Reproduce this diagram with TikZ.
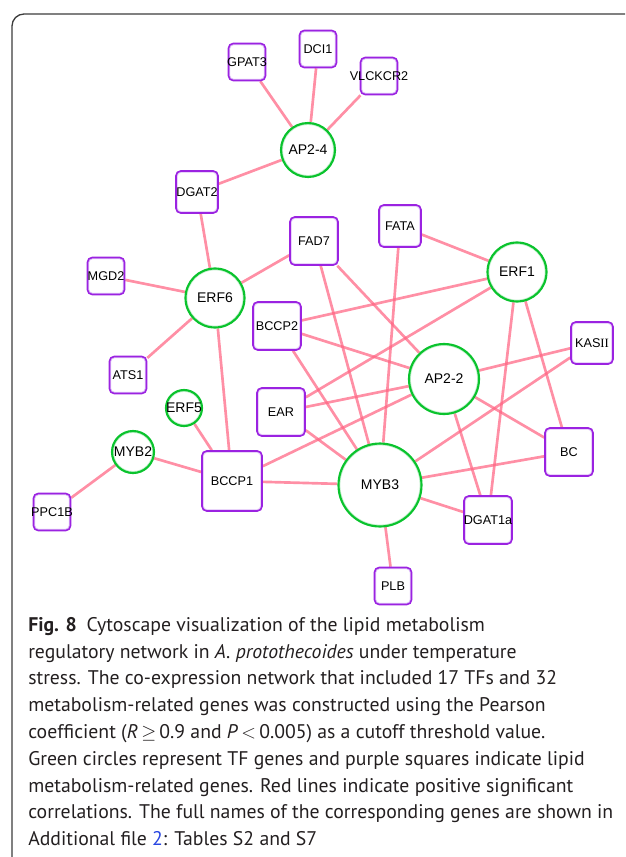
\documentclass[tikz,border=0pt]{standalone}
\usepackage{fontspec}
\setmainfont{PT Sans}
\newfontfamily\labelfont{Liberation Sans}
\newfontfamily\romanfont{Liberation Serif}
\usetikzlibrary{backgrounds}
\definecolor{edgepink}{RGB}{255,100,130}
\definecolor{genepurple}{RGB}{155,35,225}
\definecolor{genepale}{RGB}{222,190,248}
\definecolor{tfgreen}{RGB}{10,195,45}
\definecolor{tfpale}{RGB}{195,240,205}
\definecolor{framegray}{RGB}{60,60,60}
\definecolor{captiongray}{RGB}{35,31,32}
\definecolor{linkblue}{RGB}{40,70,225}

\begin{document}
\begin{tikzpicture}[x=0.75pt,y=-0.75pt,
	gene/.style={rectangle, rounded corners=3.5pt, draw=genepurple, fill=white, line width=1.2pt,
		minimum size=#1*0.75pt, inner sep=0pt, font=\labelfont\fontsize{9.5}{11}\selectfont,
		execute at begin node={\hbox to 0pt\bgroup\hss}, execute at end node={\hss\egroup},
		path picture={\draw[genepale, line width=2.6pt, rounded corners=3.5pt] (path picture bounding box.south west) rectangle (path picture bounding box.north east);}},
	tf/.style={circle, draw=tfgreen, fill=white, line width=1.6pt,
		minimum size=#1*0.75pt, inner sep=0pt, font=\labelfont\fontsize{10.5}{12}\selectfont,
		execute at begin node={\hbox to 0pt\bgroup\hss}, execute at end node={\hss\egroup},
		path picture={\draw[tfpale, line width=2.8pt] (path picture bounding box.center) circle[radius=#1*0.375pt];}},
	link/.style={edgepink, opacity=0.72, line width=2pt},
	caption/.style={anchor=north west, inner sep=0pt, align=left, text=captiongray, font=\fontsize{14.8}{20.1}\selectfont}]
			\useasboundingbox (0,0) rectangle (625,857);
			\clip (0,0) rectangle (625,857);
			\draw[framegray, line width=1pt, rounded corners=9pt] (12,880) -- (12,14) -- (650,14);
			
			\node[gene=37] (gpat3) at (247,62) {GPAT3};
			\node[gene=37] (dci1) at (318,49) {DCI1};
			\node[gene=37] (vlckcr2) at (379,76) {VLCKCR2};
			\node[tf=54] (ap24) at (308,150) {AP2-4};
			\node[gene=42] (dgat2) at (197,192) {DGAT2};
			\node[gene=48] (fad7) at (314,241) {FAD7};
			\node[gene=42] (fata) at (400,226) {FATA};
			\node[tf=59] (erf1) at (517,272) {ERF1};
			\node[gene=37] (mgd2) at (106,276) {MGD2};
			\node[tf=59] (erf6) at (215,298) {ERF6};
			\node[gene=48] (bccp2) at (277,326) {BCCP2};
			\node[gene=42] (kasii) at (592,343) {KAS{\romanfont II}};
			\node[tf=70] (ap22) at (444,379) {AP2-2};
			\node[gene=37] (ats1) at (128,375) {ATS1};
			\node[tf=36] (erf5) at (184,408) {ERF5};
			\node[gene=48] (ear) at (281,412) {EAR};
			\node[tf=42] (myb2) at (133,452) {MYB2};
			\node[gene=60] (bccp1) at (232,481) {BCCP1};
			\node[gene=37] (ppc1b) at (52,512) {PPC1B};
			\node[tf=83] (myb3) at (380,485) {MYB3};
			\node[gene=48] (bc) at (569,452) {BC};
			\node[gene=48] (dgat1a) at (488,520) {DGAT1a};
			\node[gene=37] (plb) at (393,586) {PLB};
			
			\begin{scope}[on background layer]
			\draw[link] (ap24) -- (gpat3);
			\draw[link] (ap24) -- (dci1);
			\draw[link] (ap24) -- (vlckcr2);
			\draw[link] (ap24) -- (dgat2);
			\draw[link] (erf6) -- (dgat2);
			\draw[link] (erf6) -- (mgd2);
			\draw[link] (erf6) -- (fad7);
			\draw[link] (erf6) -- (ats1);
			\draw[link] (erf6) -- (bccp1);
			\draw[link] (erf5) -- (bccp1);
			\draw[link] (myb2) -- (bccp1);
			\draw[link] (myb2) -- (ppc1b);
			\draw[link] (erf1) -- (fata);
			\draw[link] (erf1) -- (bccp2);
			\draw[link] (erf1) -- (ear);
			\draw[link] (erf1) -- (dgat1a);
			\draw[link] (erf1) -- (bc);
			\draw[link] (ap22) -- (fad7);
			\draw[link] (ap22) -- (bccp2);
			\draw[link] (ap22) -- (kasii);
			\draw[link] (ap22) -- (ear);
			\draw[link] (ap22) -- (bccp1);
			\draw[link] (ap22) -- (bc);
			\draw[link] (ap22) -- (dgat1a);
			\draw[link] (myb3) -- (fad7);
			\draw[link] (myb3) -- (fata);
			\draw[link] (myb3) -- (bccp2);
			\draw[link] (myb3) -- (ear);
			\draw[link] (myb3) -- (kasii);
			\draw[link] (myb3) -- (bccp1);
			\draw[link] (myb3) -- (bc);
			\draw[link] (myb3) -- (dgat1a);
			\draw[link] (myb3) -- (plb);
			\end{scope}
			
			\node[caption] (caption) at (28,617) {\textbf{Fig. 8}\enspace Cytoscape visualization of the lipid metabolism\\
				regulatory network in \textit{A. protothecoides} under temperature\\
				stress. The co-expression network that included 17 TFs and 32\\
				metabolism-related genes was constructed using the Pearson\\
				coefficient (\textit{R}\,$\geq$\,0.9 and \textit{P}\,$<$\,0.005) as a cutoff threshold value.\\
				Green circles represent TF genes and purple squares indicate lipid\\
				metabolism-related genes. Red lines indicate positive significant\\
				correlations. The full names of the corresponding genes are shown in\\
				Additional file \textcolor{linkblue}{2}: Tables S2 and S7};
		  \end{tikzpicture}
\end{document}
